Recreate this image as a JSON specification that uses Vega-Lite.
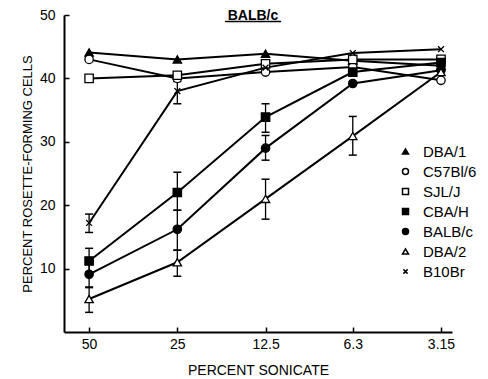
{
  "$schema": "https://vega.github.io/schema/vega-lite/v6.json",
  "autosize": "none",
  "width": 388,
  "height": 317,
  "padding": {"left": 64, "top": 15, "right": 36, "bottom": 47},
  "background": "white",
  "config": {
    "view": {"stroke": null},
    "font": "Liberation Sans",
    "axis": {
      "grid": false,
      "domainColor": "black",
      "domainWidth": 2,
      "tickColor": "black",
      "tickWidth": 1.5,
      "tickSize": -5,
      "labelColor": "black",
      "labelFont": "Liberation Sans",
      "labelFontSize": 14,
      "titleColor": "black",
      "titleFont": "Liberation Sans",
      "titleFontWeight": "normal"
    }
  },
  "title": {
    "text": "BALB/c",
    "subtitle": "————",
    "frame": "group",
    "fontSize": 14,
    "fontWeight": "bold",
    "color": "black",
    "subtitleColor": "black",
    "subtitleFontSize": 14,
    "subtitleFontWeight": "bold",
    "subtitlePadding": -8,
    "anchor": "middle",
    "dx": -5,
    "offset": -21
  },
  "datasets": {
    "pts": [
      {"strain": "DBA/1", "sonicate": 50, "pct": 44.1},
      {"strain": "DBA/1", "sonicate": 25, "pct": 43.0},
      {"strain": "DBA/1", "sonicate": 12.5, "pct": 43.9},
      {"strain": "DBA/1", "sonicate": 6.3, "pct": 42.8},
      {"strain": "DBA/1", "sonicate": 3.15, "pct": 42.0},
      {"strain": "C57Bl/6", "sonicate": 50, "pct": 43.0},
      {"strain": "C57Bl/6", "sonicate": 25, "pct": 40.0},
      {"strain": "C57Bl/6", "sonicate": 12.5, "pct": 41.0},
      {"strain": "C57Bl/6", "sonicate": 6.3, "pct": 41.8},
      {"strain": "C57Bl/6", "sonicate": 3.15, "pct": 39.7},
      {"strain": "SJL/J", "sonicate": 50, "pct": 40.0},
      {"strain": "SJL/J", "sonicate": 25, "pct": 40.5},
      {"strain": "SJL/J", "sonicate": 12.5, "pct": 42.3},
      {"strain": "SJL/J", "sonicate": 6.3, "pct": 43.0},
      {"strain": "SJL/J", "sonicate": 3.15, "pct": 43.0},
      {"strain": "CBA/H", "sonicate": 50, "pct": 11.2},
      {"strain": "CBA/H", "sonicate": 25, "pct": 22.0},
      {"strain": "CBA/H", "sonicate": 12.5, "pct": 33.9},
      {"strain": "CBA/H", "sonicate": 6.3, "pct": 41.0},
      {"strain": "CBA/H", "sonicate": 3.15, "pct": 42.5},
      {"strain": "BALB/c", "sonicate": 50, "pct": 9.1},
      {"strain": "BALB/c", "sonicate": 25, "pct": 16.2},
      {"strain": "BALB/c", "sonicate": 12.5, "pct": 29.0},
      {"strain": "BALB/c", "sonicate": 6.3, "pct": 39.2},
      {"strain": "BALB/c", "sonicate": 3.15, "pct": 41.3},
      {"strain": "DBA/2", "sonicate": 50, "pct": 5.2},
      {"strain": "DBA/2", "sonicate": 25, "pct": 11.0},
      {"strain": "DBA/2", "sonicate": 12.5, "pct": 21.0},
      {"strain": "DBA/2", "sonicate": 6.3, "pct": 30.9},
      {"strain": "DBA/2", "sonicate": 3.15, "pct": 41.0},
      {"strain": "B10Br", "sonicate": 50, "pct": 17.2},
      {"strain": "B10Br", "sonicate": 25, "pct": 38.0},
      {"strain": "B10Br", "sonicate": 12.5, "pct": 41.7},
      {"strain": "B10Br", "sonicate": 6.3, "pct": 44.0},
      {"strain": "B10Br", "sonicate": 3.15, "pct": 44.6}
    ],
    "errs": [
      {"strain": "B10Br", "sonicate": 50, "lo": 15.7, "hi": 18.6},
      {"strain": "B10Br", "sonicate": 25, "lo": 36.0, "hi": 39.5},
      {"strain": "CBA/H", "sonicate": 50, "lo": 9.5, "hi": 13.2},
      {"strain": "CBA/H", "sonicate": 25, "lo": 19.2, "hi": 25.2},
      {"strain": "CBA/H", "sonicate": 12.5, "lo": 31.5, "hi": 36.0},
      {"strain": "BALB/c", "sonicate": 50, "lo": 7.1, "hi": 11.0},
      {"strain": "BALB/c", "sonicate": 25, "lo": 12.9, "hi": 19.2},
      {"strain": "BALB/c", "sonicate": 12.5, "lo": 27.1, "hi": 31.0},
      {"strain": "DBA/2", "sonicate": 50, "lo": 3.1, "hi": 7.0},
      {"strain": "DBA/2", "sonicate": 25, "lo": 8.8, "hi": 12.9},
      {"strain": "DBA/2", "sonicate": 12.5, "lo": 17.8, "hi": 24.1},
      {"strain": "DBA/2", "sonicate": 6.3, "lo": 27.9, "hi": 34.0}
    ]
  },
  "encoding": {
    "x": {
      "field": "sonicate",
      "type": "quantitative",
      "scale": {"type": "log", "domain": [2.889, 60.9], "reverse": true, "nice": false},
      "axis": {
        "values": [50, 25, 12.5, 6.3, 3.15],
        "format": ".3~g",
        "title": "PERCENT SONICATE",
        "titleFontSize": 14,
        "titlePadding": 12,
        "labelPadding": 10
      }
    }
  },
  "layer": [
    {
      "data": {"name": "pts"},
      "mark": {"type": "line", "color": "black", "strokeWidth": 2},
      "encoding": {
        "y": {
          "field": "pct",
          "type": "quantitative",
          "scale": {"domain": [0, 50], "nice": false},
          "axis": {
            "values": [10, 20, 30, 40, 50],
            "title": "PERCENT ROSETTE-FORMING CELLS",
            "titleFontSize": 13,
            "titlePadding": 5,
            "labelPadding": 14
          }
        },
        "detail": {"field": "strain"}
      }
    },
    {
      "data": {"name": "errs"},
      "mark": {"type": "rule", "color": "black", "strokeWidth": 1.3},
      "encoding": {
        "y": {"field": "lo", "type": "quantitative", "title": "PERCENT ROSETTE-FORMING CELLS"},
        "y2": {"field": "hi"}
      }
    },
    {
      "data": {"name": "errs"},
      "mark": {"type": "tick", "orient": "horizontal", "color": "black", "size": 8, "thickness": 1.5, "opacity": 1},
      "encoding": {
        "y": {"field": "lo", "type": "quantitative", "title": "PERCENT ROSETTE-FORMING CELLS"}
      }
    },
    {
      "data": {"name": "errs"},
      "mark": {"type": "tick", "orient": "horizontal", "color": "black", "size": 8, "thickness": 1.5, "opacity": 1},
      "encoding": {
        "y": {"field": "hi", "type": "quantitative", "title": "PERCENT ROSETTE-FORMING CELLS"}
      }
    },
    {
      "data": {"name": "pts"},
      "mark": {"type": "point", "filled": true, "stroke": "black", "strokeWidth": 1.3, "size": 70, "opacity": 1},
      "encoding": {
        "y": {"field": "pct", "type": "quantitative", "title": "PERCENT ROSETTE-FORMING CELLS"},
        "shape": {
          "field": "strain",
          "type": "nominal",
          "scale": {
            "domain": ["DBA/1", "C57Bl/6", "SJL/J", "CBA/H", "BALB/c", "DBA/2", "B10Br"],
            "range": ["triangle-up", "circle", "square", "square", "circle", "triangle-up", "M-0.7,-0.7L0.7,0.7M-0.7,0.7L0.7,-0.7"]
          },
          "legend": {
            "title": null,
            "orient": "none",
            "legendX": 334,
            "legendY": 129,
            "padding": 0,
            "labelFontSize": 15,
            "labelColor": "black",
            "labelFont": "Liberation Sans",
            "labelOffset": 10,
            "symbolSize": 36,
            "rowPadding": 4,
            "encode": {
              "symbols": {
                "update": {
                  "stroke": {"value": "black"},
                  "strokeWidth": {"value": 1},
                  "opacity": {"value": 1}
                }
              }
            }
          }
        },
        "fill": {
          "field": "strain",
          "type": "nominal",
          "scale": {
            "domain": ["DBA/1", "C57Bl/6", "SJL/J", "CBA/H", "BALB/c", "DBA/2", "B10Br"],
            "range": ["black", "white", "white", "black", "black", "white", "white"]
          },
          "legend": {
            "title": null,
            "orient": "none",
            "legendX": 334,
            "legendY": 129,
            "padding": 0,
            "labelFontSize": 15,
            "labelColor": "black",
            "labelFont": "Liberation Sans",
            "labelOffset": 10,
            "symbolSize": 36,
            "rowPadding": 4,
            "encode": {
              "symbols": {
                "update": {
                  "stroke": {"value": "black"},
                  "strokeWidth": {"value": 1},
                  "opacity": {"value": 1}
                }
              }
            }
          }
        }
      }
    }
  ]
}
